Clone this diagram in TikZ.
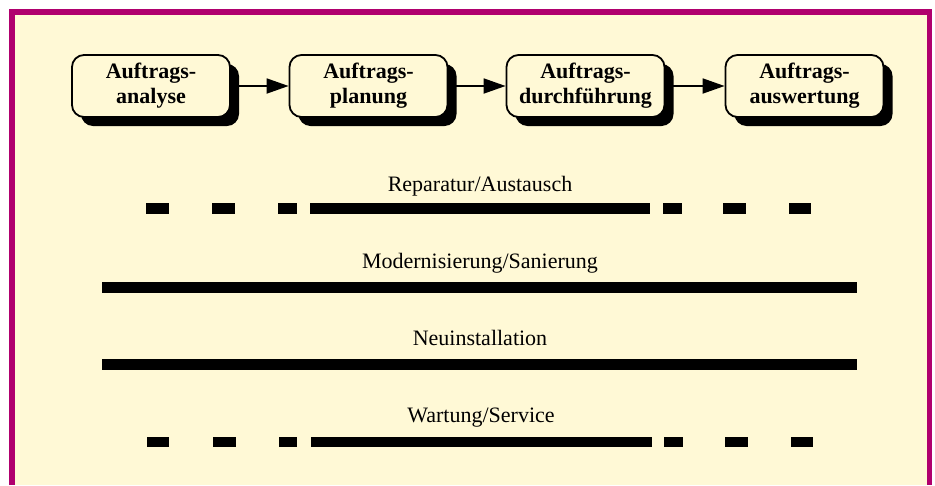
\documentclass[tikz,border=0pt]{standalone}
\usepackage{fontspec}
\setmainfont{Liberation Serif}
\usepackage{tikz}
\usetikzlibrary{shadows,arrows.meta}
\definecolor{creme}{HTML}{FFF9D6}
\definecolor{magenta}{HTML}{B0006E}
\tikzset{phase/.style={
    draw,
    line width=1.8pt,
    rounded corners=12pt,
    fill=creme,
    minimum width=158pt,
    minimum height=62pt,
    inner sep=0pt,
    align=center,
    font=\bfseries\fontsize{22}{25}\selectfont,
    drop shadow={shadow xshift=9pt, shadow yshift=-9pt, opacity=1, fill=black}},
  bereich/.style={
    anchor=base,
    font=\fontsize{22}{26}\selectfont}}

\begin{document}
\begin{tikzpicture}[x=1pt, y=-1pt]

\useasboundingbox (0,0) rectangle (935,485);

% Hintergrund und Rahmen
\fill[creme] (9,9) rectangle (932,485);
\draw[magenta, line width=5.5pt] (11.75,485) -- (11.75,11.75) -- (929.5,11.75) -- (929.5,485);

\coordinate (P1) at (151,86);
\coordinate (P2) at (368.5,86);
\coordinate (P3) at (585.5,86);
\coordinate (P4) at (804.5,86);

\node[phase] (analyse) at (P1) {Auftrags-\\analyse};
\node[phase] (planung) at (P2) {Auftrags-\\planung};
\node[phase] (durchf) at (P3) {Auftrags-\\durchführung};
\node[phase] (auswert) at (P4) {Auftrags-\\auswertung};

\draw[-{Triangle[length=22pt,width=15pt]}, line width=1.8pt] (analyse) -- (planung);
\draw[-{Triangle[length=22pt,width=15pt]}, line width=1.8pt] (planung) -- (durchf);
\draw[-{Triangle[length=22pt,width=15pt]}, line width=1.8pt] (durchf) -- (auswert);

% Bereiche
\node[bereich] (reparatur) at (480,191) {Reparatur/Austausch};
\node[bereich] (modern) at (480,268) {Modernisierung/Sanierung};
\node[bereich] (neu) at (480,345) {Neuinstallation};
\node[bereich] (wartung) at (481,422) {Wartung/Service};

\foreach \xa/\xb in {146/169, 212/235, 278/297, 310/650, 663/682, 723/746, 789/811}
  \fill (\xa,203) rectangle (\xb,214);
\fill (102,281.5) rectangle (857,292.5);
\fill (102,358.5) rectangle (857,369.5);
\foreach \xa/\xb in {147/169, 213/236, 279/297, 311/652, 664/683, 725/748, 791/813}
  \fill (\xa,437) rectangle (\xb,447);

\end{tikzpicture}
\end{document}
